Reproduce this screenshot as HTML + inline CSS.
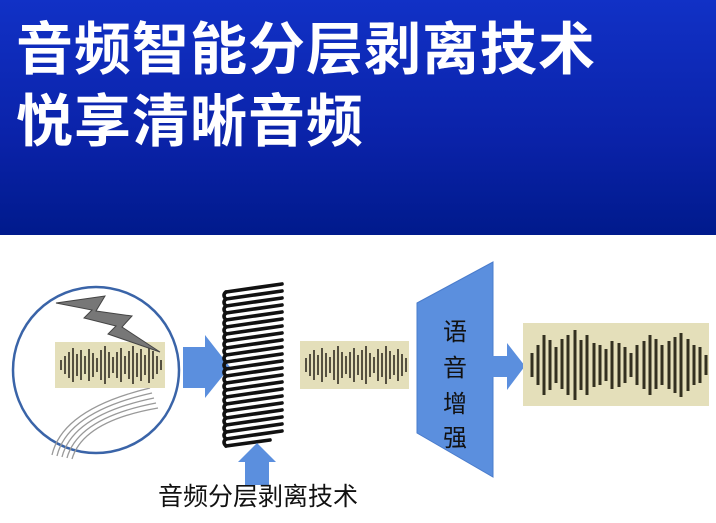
<!DOCTYPE html>
<html><head><meta charset="utf-8"><style>
html,body{margin:0;padding:0;width:716px;height:523px;overflow:hidden;background:#fff}
.hd{position:absolute;left:0;top:0;width:716px;height:235px;background:linear-gradient(#1131c6,#0a22a8 60%,#001a8c)}
.t{position:absolute;left:16px;color:#fff;font-family:"Liberation Sans","Noto Sans CJK SC",sans-serif;font-weight:bold;font-size:57px;line-height:60px;letter-spacing:1px;white-space:nowrap}
.cap{position:absolute;left:158px;top:480px;font-family:"Liberation Sans","Noto Sans CJK SC",sans-serif;font-size:25px;line-height:34px;color:#111;white-space:nowrap}
</style></head><body>
<div class="hd"></div>
<div class="t" style="top:20px">音频智能分层剥离技术</div>
<div class="t" style="top:92px">悦享清晰音频</div>
<svg width="716" height="523" style="position:absolute;left:0;top:0">
<circle cx="96" cy="370" r="83" fill="#fff" stroke="#3a64a8" stroke-width="2.5"/>
<g fill="none" stroke="#999" stroke-width="1.3">
<path d="M52 455 C60 420 100 400 150 388"/>
<path d="M57 456 C65 423 103 404 152 393"/>
<path d="M62 457 C70 426 106 408 154 398"/>
<path d="M67 458 C75 429 109 412 156 403"/>
<path d="M72 459 C80 432 112 416 158 408"/>
</g>
<rect x="55" y="342" width="110" height="46" fill="#e4dfba"/>
<path d="M61 360V370M65 356V374M69 352V378M73 348V382M77 354V376M81 350V380M85 356V374M89 349V381M93 353V377M97 358V372M101 350V380M105 346V384M109 352V378M113 357V373M117 352V378M121 348V382M125 356V374M129 351V379M133 346V384M137 353V377M141 349V381M145 355V375M149 347V383M153 351V379M157 356V374M161 360V370" stroke="#555040" stroke-width="2"/>
<polygon points="56,303 105,296 96,311 132,316 122,327 160,352 108,334 116,326 84,318 92,310" fill="#777" stroke="#444" stroke-width="1"/>
<polygon points="183,347 205,347 205,335 230,367 205,398 205,388 183,388" fill="#5b8fde"/>
<g stroke="#111" stroke-width="3.6" fill="none" stroke-linecap="round">
<path d="M226 292L282 284M226 299L282 291M226 306L282 298M226 313L282 305M226 320L282 312M226 327L282 319M226 334L282 326M226 341L282 333M226 348L282 340M226 355L282 347M226 362L282 354M226 369L282 361M226 376L282 368M226 383L282 375M226 390L282 382M226 397L282 389M226 404L282 396M226 411L282 403M226 418L282 410M226 425L282 417M226 432L282 424M226 439L282 431M226 446L270 440"/>
<path d="M226 292Q222 295 226 299Q222 302 226 306Q222 309 226 313Q222 316 226 320Q222 323 226 327Q222 330 226 334Q222 337 226 341Q222 344 226 348Q222 351 226 355Q222 358 226 362Q222 365 226 369Q222 372 226 376Q222 379 226 383Q222 386 226 390Q222 393 226 397Q222 400 226 404Q222 407 226 411Q222 414 226 418Q222 421 226 425Q222 428 226 432Q222 435 226 439Q222 442 226 446"/>
</g>
<polygon points="245,485 245,462 238,462 257,443 276,462 269,462 269,485" fill="#5b8fde"/>
<rect x="300" y="341" width="109" height="48" fill="#e4dfba"/>
<path d="M306 358V372M310 354V376M314 350V380M318 355V375M322 348V382M326 353V377M330 357V373M334 350V380M338 346V384M342 352V378M346 356V374M350 352V378M354 348V382M358 355V375M362 350V380M366 346V384M370 353V377M374 357V373M378 349V381M382 353V377M386 346V384M390 351V379M394 355V375M398 349V381M402 354V376M406 358V372" stroke="#555040" stroke-width="2"/>
<polygon points="417,303 493,262 493,477 417,433" fill="#5b8fde" stroke="#4a7ccc" stroke-width="1"/>
<text font-family="Liberation Sans,Noto Sans CJK SC,sans-serif" font-size="24" fill="#111" text-anchor="middle"><tspan x="455" y="340">语</tspan><tspan x="455" y="376">音</tspan><tspan x="455" y="412">增</tspan><tspan x="455" y="446">强</tspan></text>
<polygon points="492,356 507,356 507,343 525,366 507,390 507,377 492,377" fill="#5b8fde"/>
<rect x="523" y="323" width="186" height="83" fill="#e4dfba"/>
<path d="M532 353V377M538 345V385M544 335V395M550 340V390M556 347V383M562 339V389M568 335V395M575 330V400M581 340V390M587 335V395M594 343V387M600 345V385M606 349V381M612 341V389M619 343V387M625 347V383M631 353V377M637 345V385M644 341V389M650 335V395M656 339V389M662 345V385M669 341V389M675 337V393M681 333V397M688 339V391M694 345V385M700 347V383M706 355V375" stroke="#333020" stroke-width="3"/>
</svg>
<div class="cap">音频分层剥离技术</div>
</body></html>
